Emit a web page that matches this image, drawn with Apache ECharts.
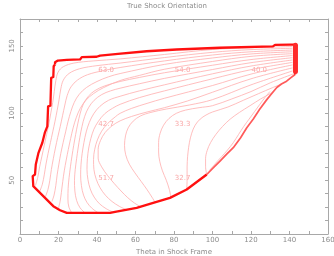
<!DOCTYPE html>
<html><head><meta charset="utf-8">
<script src="https://cdn.jsdelivr.net/npm/echarts@6/dist/echarts.min.js"></script>
<style>html,body{margin:0;padding:0;background:#fff}#c{width:334px;height:256px}</style>
</head><body><div id="c"></div>
<script>
// ---- data (x = Theta, y = Phi) ----
const xTickLabels = [0, 20, 40, 60, 80, 100, 120, 140, 160];
const yTickLabels = [50, 100, 150];

// outline of the region, split into three stretches
const edgeTop = [[18.2,136.1],[18.2,137.8],[19.7,139.1],[24.3,139.6],[31.2,139.9],[32.1,141.6],[39.8,141.9],[41.6,142.8],[50.9,144.1],[65.8,146.0],[81.4,147.3],[103.9,148.6],[131.4,149.6],[132.5,150.8],[140.3,151.0],[142.9,151.0],[142.9,128.7]];
const edgeDiag = [[142.9,128.7],[140.6,126.2],[138.5,123.7],[135.8,121.6],[133.4,119.0],[130.6,114.2],[128.2,110.0],[124.5,102.8],[121.2,95.6],[117.8,89.1],[114.6,81.6],[110.8,74.2],[107.5,69.6],[103.9,64.3],[100.6,59.6],[97.0,54.3]];
const edgeBottom = [[97.0,54.3],[86.6,43.1],[77.9,36.9],[69.2,33.1],[60.6,29.4],[49.4,26.4],[46.8,25.7],[24.3,25.7],[20.8,27.7],[17.3,30.7],[13.0,36.9],[10.4,40.6],[6.9,45.6],[6.6,53.1],[7.8,54.3],[8.2,61.7],[8.9,62],[9.6,70.4],[10.6,70.8],[11.6,77.9],[12.4,78.2],[12.9,85.4],[13.9,86],[14.2,90.1],[14.6,105],[15.8,105.5],[16.2,126.2],[17.3,126.8],[17.5,134.9],[18.2,136.1]];
const rightEdge = [[143.1,131],[143.1,150.5]];

const c0 = [[8.0,46.0],[9.2,52],[10.2,60],[11.4,68],[12.6,76],[13.8,84],[15.0,92],[16.0,100],[17.0,108],[17.8,116],[18.6,124],[19.8,130.5],[22.5,134.5],[28,137.2],[38,138.8],[52,140.3],[75,143.6],[100,147.3],[120,148.6],[141.5,149.5]];
const c1 = [[10.2,41.5],[11.6,47],[12.6,54],[13.5,62],[14.6,70],[15.8,78],[17.0,86],[18.2,94],[19.3,102],[20.3,110],[21.2,118],[22.5,124.5],[25.5,129.5],[31,133],[40,135.3],[52,137.2],[75,141.3],[100,145.2],[120,147.2],[141.5,148.2]];
const c2 = [[13.2,37.8],[14.5,43],[15.5,50],[16.3,58],[17.3,66],[18.4,74],[19.6,82],[20.9,90],[22.1,98],[23.3,106],[24.5,113],[26.5,119.5],[29.8,124.5],[35,128.5],[43,131.5],[52,133.9],[75,138.8],[100,143.2],[120,145.6],[141.5,146.9]];
const c3 = [[16.6,34.2],[17.7,39],[18.6,46],[19.3,54],[20.2,62],[21.2,70],[22.4,78],[23.7,86],[25.0,94],[26.4,101],[28.2,108],[30.8,114],[34.5,119],[40,123.5],[46,127],[52,129.4],[75,136.2],[100,141.0],[120,144],[141.5,145.6]];
const c4 = [[20.0,29.4],[20.8,34],[21.5,41],[22.2,49],[23.0,57],[24.0,65],[25.1,73],[26.3,81],[27.6,89],[29.2,96.5],[31.3,103.5],[34.2,109.5],[38.2,114.5],[43.5,119],[52,124.2],[62,128],[75,132.6],[100,138.4],[120,142.2],[141.5,144.2]];
const c5 = [[26.9,25.7],[25.4,30],[24.9,36],[25.0,44],[25.5,52],[26.2,60],[27.0,68],[27.9,76],[28.9,84],[30,92],[31.3,100],[33,107],[35.5,112.5],[39,116.8],[44,120.2],[52,123.5],[62,126.5],[75,130],[100,135.6],[120,139.8],[141.5,142.8]];
const c6 = [[33.8,25.7],[31.2,29.5],[29.4,35],[28.5,42],[28.3,50],[28.7,58],[29.4,66],[30.2,74],[31.1,82],[32.2,90],[33.6,97.5],[35.6,104],[38.5,109.5],[42.5,113.8],[47,116.5],[52,118.5],[62,121.8],[75,125.8],[100,132.4],[120,137.5],[141.5,141.2]];
const c7 = [[40.7,25.7],[37.5,29],[34.8,33.5],[33,39],[31.9,46],[31.5,54],[31.7,62],[32.3,70],[33.2,78],[34.4,86],[36,93],[38.3,99.5],[41.5,105],[46,109.5],[52,112.5],[62,116.5],[75,121],[100,129.2],[120,135],[141.5,139.5]];
const c8 = [[48.5,26.2],[44.8,28.8],[41.3,32.5],[38.5,37.5],[36.5,43.5],[35.3,50.5],[34.8,58],[35,66],[35.7,74],[36.8,81],[38.4,88],[40.8,94],[44,99.5],[48,103.5],[52,106.5],[62,111.5],[75,116.5],[100,125.5],[120,132.3],[141.5,137.7]];
const c9 = [[55.4,28],[51.6,30.6],[47.8,34.2],[44.4,38.8],[41.6,44.4],[39.6,50.8],[38.4,58],[38.2,65.5],[38.8,73],[40.2,80],[42.4,86.5],[45.5,92.2],[49.5,97.2],[52,99.8],[58,103.5],[66,107.2],[75,111],[100,120.5],[120,129],[141.5,135.8]];
const c10 = [[62.3,30.6],[59.5,33],[56,37],[52.5,42],[49,47.5],[45.5,53.5],[42.4,60],[40.6,66.5],[40.6,73],[41.8,79.5],[44.2,85.5],[47.8,90.5],[52,94.2],[58,97.5],[66,100.8],[75,104],[87,109],[100,115.5],[120,125.5],[141.5,133.6]];
const c11 = [[70.1,33.7],[68.5,37.5],[66,43],[63,49],[59.7,55.5],[56.8,62],[54.9,69],[54.3,76],[54.8,83],[56.2,89],[58.8,94],[62.5,97.8],[68,100.5],[76,103],[88,106],[100,110],[120,121],[141.5,131.3]];
const c12 = [[78.4,37.3],[77.6,43],[76,50],[74,57],[72.6,64],[72,71],[72,78],[72.8,85],[74.6,91],[77.4,96],[81.2,99.8],[86,102.2],[93,104],[100,105.5],[110,110.5],[120,116],[130,122.5],[141.8,129]];
const c13 = [[86.6,43.3],[86.8,50],[86.8,57],[86.9,64],[87.3,71],[88,78],[89.2,85],[91,91],[93.6,95.5],[96.6,98.5],[100,100.8],[108,104.5],[116,109.5],[124,114.5],[131,118.8],[135.8,121.5]];
const c14 = [[97,54.5],[96.4,60],[96.4,66],[97.2,72],[99,78],[101.7,84],[105.2,90],[109.2,95.5],[114,100.5],[119.5,105.5],[125,110.5],[130,114.5],[132.2,116.8]];
const c15 = [[98.5,57.5],[101.5,62.5],[104.7,67.5],[107.8,72.5],[110.8,78],[113.5,84],[116.2,90],[119,95.5],[121.8,101],[124.6,106.5],[127.2,111.5],[129.8,116]];

const labelText = ['63.0','54.0','40.0','42.7','33.3','51.7','32.7'];
const labelX = [44.7, 84.5, 124.3, 44.7, 84.5, 44.7, 84.5];
const labelY = [131.9, 131.9, 131.9, 91.9, 91.9, 51.8, 51.8];

// ---- chart ----
const contours = [c0,c1,c2,c3,c4,c5,c6,c7,c8,c9,c10,c11,c12,c13,c14,c15];
const txt = '#8c8c8c', axc = '#a8a8a8', font = 'DejaVu Sans';
const series = contours.map(d => ({
  type: 'line', data: d, showSymbol: false, smooth: 0.35, silent: true,
  lineStyle: { color: '#ffadad', width: 0.8 }
}));
series.push({ type: 'line', data: edgeDiag, showSymbol: false, smooth: false, silent: true,
  lineStyle: { color: '#ff5a5a', width: 1.7, join: 'round' } });
[edgeTop, edgeBottom].forEach(d => series.push({ type: 'line', data: d, showSymbol: false, smooth: false, silent: true,
  lineStyle: { color: '#ff1010', width: 2.3, join: 'round' } }));
series.push({ type: 'line', data: rightEdge, showSymbol: false, silent: true,
  lineStyle: { color: '#ff2a2a', width: 5, cap: 'round' } });
series.push({ type: 'scatter', symbolSize: 0, silent: true,
  data: labelText.map((t, i) => ({ name: t, value: [labelX[i], labelY[i]] })),
  label: { show: true, position: 'inside', formatter: p => p.name, color: '#f79090', fontSize: 7, fontFamily: font } });

const baseAxis = {
  type: 'value', splitLine: { show: false },
  axisLine: { show: true, onZero: false, lineStyle: { color: axc, width: 1 } },
  axisTick: { show: true, inside: true, length: 3, lineStyle: { color: axc } }
};
const chart = echarts.init(document.getElementById('c'), null, { renderer: 'canvas' });
chart.setOption({
  animation: false,
  backgroundColor: '#fff',
  title: { text: 'True Shock Orientation', left: 'center', top: -2,
    textStyle: { color: txt, fontSize: 7, fontWeight: 'normal', fontFamily: font } },
  grid: { left: 20, right: 6, top: 19, bottom: 22, containLabel: false, outerBoundsMode: 'none' },
  xAxis: [
    Object.assign({}, baseAxis, { position: 'bottom', min: 0, max: 160, interval: 10,
      name: 'Theta in Shock Frame', nameLocation: 'middle', nameGap: 14,
      nameTextStyle: { color: txt, fontSize: 7, fontFamily: font },
      axisLabel: { color: txt, fontSize: 7, fontFamily: font, margin: 3,
        formatter: v => xTickLabels.includes(v) ? String(v) : '' } }),
    Object.assign({}, baseAxis, { position: 'top', min: 0, max: 160, interval: 10, axisLabel: { show: false } })
  ],
  yAxis: [
    Object.assign({}, baseAxis, { position: 'left', min: 10, max: 170, interval: 10,
      name: 'Phi', nameLocation: 'middle', nameGap: 15, nameRotate: 90,
      nameTextStyle: { color: txt, fontSize: 7, fontFamily: font },
      axisLabel: { color: txt, fontSize: 7, fontFamily: font, margin: 4, rotate: 90,
        formatter: v => yTickLabels.includes(v) ? String(v) : '' } }),
    Object.assign({}, baseAxis, { position: 'right', min: 10, max: 170, interval: 10, axisLabel: { show: false } })
  ],
  series: series
});
</script></body></html>
